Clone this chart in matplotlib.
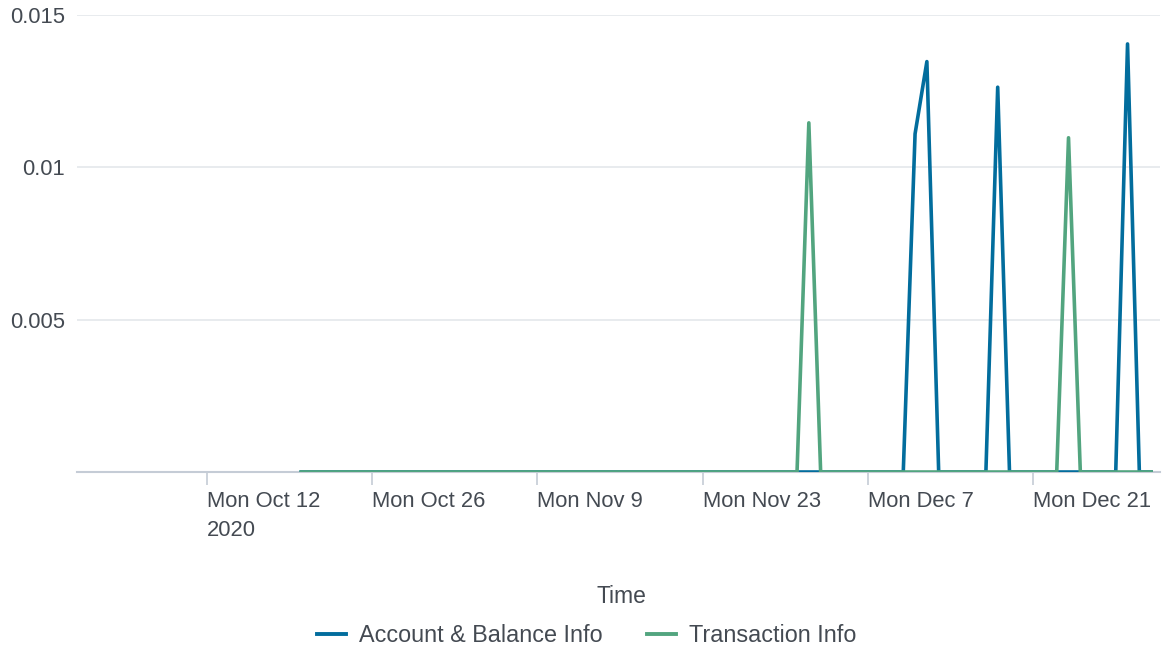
import matplotlib.pyplot as plt
import pandas as pd

plt.rcParams['font.family'] = ['Liberation Sans', 'DejaVu Sans']

# daily series, Oct 20 - Dec 31 2020
dates = pd.date_range('2020-10-20', '2020-12-31', freq='D')

account_spikes = {
    '2020-12-11': 0.0111,
    '2020-12-12': 0.01347,
    '2020-12-18': 0.01263,
    '2020-12-29': 0.01405,
}
transaction_spikes = {
    '2020-12-02': 0.01146,
    '2020-12-24': 0.01097,
}

account = [account_spikes.get(d.strftime('%Y-%m-%d'), 0.0) for d in dates]
transaction = [transaction_spikes.get(d.strftime('%Y-%m-%d'), 0.0) for d in dates]

tick_dates = pd.to_datetime(['2020-10-12', '2020-10-26', '2020-11-09',
                             '2020-11-23', '2020-12-07', '2020-12-21'])
tick_labels = ['Mon Oct 12\n2020', 'Mon Oct 26', 'Mon Nov 9',
               'Mon Nov 23', 'Mon Dec 7', 'Mon Dec 21']
y_ticks = [0.005, 0.01, 0.015]
y_labels = ['0.005', '0.01', '0.015']

blue = '#026d9d'
green = '#52a57f'
text_col = '#444a52'

fig = plt.figure(figsize=(11.64, 6.5), dpi=100)
ax = fig.add_axes([77 / 1164, (650 - 472) / 650, (1160 - 77) / 1164, (472 - 15) / 650])

ax.plot(dates, account, color=blue, lw=2.6, label='Account & Balance Info', zorder=3)
ax.plot(dates, transaction, color=green, lw=2.6, label='Transaction Info', zorder=4)

ax.set_xlim(pd.Timestamp('2020-10-01'), pd.Timestamp('2020-12-31 18:00'))
ax.set_ylim(0, 0.015)

ax.set_yticks(y_ticks)
ax.set_yticklabels(y_labels)
ax.set_xticks(tick_dates)
ax.set_xticklabels(tick_labels, ha='left', va='top', linespacing=1.45)

ax.tick_params(axis='y', length=0, pad=8.5, labelsize=15.8, labelcolor=text_col)
ax.tick_params(axis='x', length=9, width=1.2, color='#c5ccd6', pad=5,
               labelsize=15.8, labelcolor=text_col)

ax.grid(axis='y', color='#e4e7eb', lw=1.2, zorder=0)
ax.set_axisbelow(True)
for s in ['top', 'right', 'left']:
    ax.spines[s].set_visible(False)
ax.spines['bottom'].set_color('#c5ccd6')
ax.spines['bottom'].set_linewidth(1.5)
ax.spines['bottom'].set_zorder(1)

ax.set_xlabel('Time', fontsize=16.5, color=text_col)
ax.xaxis.set_label_coords(0.503, -0.248)

leg = fig.legend(loc='center', bbox_to_anchor=(0.504, 1 - 636 / 650), ncol=2,
                 frameon=False, fontsize=16.8, handlelength=1.24, columnspacing=1.9,
                 handletextpad=0.55)
for t in leg.get_texts():
    t.set_color(text_col)
for h in leg.get_lines():
    h.set_linewidth(2.8)

fig.savefig('out.png', dpi=100)
